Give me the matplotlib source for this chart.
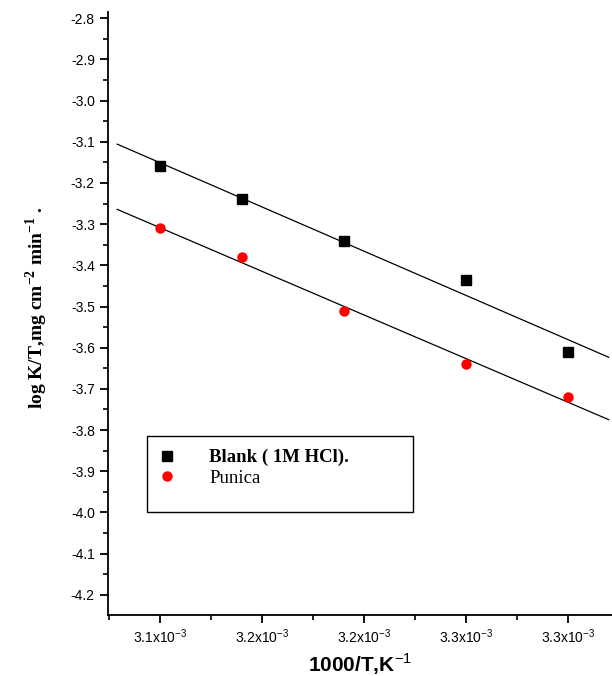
import numpy as np
import matplotlib
matplotlib.use('Agg')
import matplotlib.pyplot as plt
from matplotlib.patches import Rectangle
from matplotlib.ticker import MultipleLocator, FuncFormatter

plt.rcParams['font.family'] = 'Liberation Sans'
plt.rcParams['mathtext.fontset'] = 'custom'
plt.rcParams['mathtext.rm'] = 'Liberation Serif'
plt.rcParams['mathtext.bf'] = 'Liberation Serif:bold'
plt.rcParams['mathtext.sf'] = 'Liberation Sans'

# data
inv_t = [0.00310, 0.00314, 0.00319, 0.00325, 0.00330]
blank = [-3.16, -3.24, -3.34, -3.435, -3.61]
punica = [-3.31, -3.38, -3.51, -3.64, -3.72]
series_names = ['Blank ( 1M HCl).', 'Punica']

fig = plt.figure(figsize=(6.12, 6.76), dpi=100)
ax = fig.add_axes([0.1765, 0.0902, 0.8235, 0.892])

xlo, xhi = 0.0030745, 0.0033216
x_fit = np.array([0.003079, 0.003320])

ax.plot(inv_t, blank, 's', color='black', markersize=6.5, zorder=3, label=series_names[0])
ax.plot(inv_t, punica, 'o', color='red', markersize=7.5, markeredgewidth=0, zorder=3,
        label=series_names[1])

for ys in (blank, punica):
    k, b = np.polyfit(inv_t, ys, 1)
    ax.plot(x_fit, k * x_fit + b, color='black', linewidth=0.9, zorder=2)

ax.set_xlim(xlo, xhi)
ax.set_ylim(-4.249, -2.785)

ax.spines['top'].set_visible(False)
ax.spines['right'].set_visible(False)
ax.spines['left'].set_linewidth(1.3)
ax.spines['bottom'].set_linewidth(1.3)

ax.xaxis.set_major_locator(MultipleLocator(0.00005))
ax.xaxis.set_minor_locator(MultipleLocator(0.000025))
ax.yaxis.set_major_locator(MultipleLocator(0.1))
ax.yaxis.set_minor_locator(MultipleLocator(0.05))


def xfmt(v, pos):
    return '%.1fx10$^{\\mathsf{-3}}$' % (v * 1e3 + 1e-9)


ax.xaxis.set_major_formatter(FuncFormatter(xfmt))
ax.yaxis.set_major_formatter(FuncFormatter(lambda v, p: '%.1f' % v))
ax.tick_params(which='major', length=6, width=1.3, labelsize=10, direction='out')
ax.tick_params(which='minor', length=3.5, width=1.2, direction='out')
ax.tick_params(axis='x', pad=3)

ax.set_xlabel('1000/T,K$^{\\mathsf{-1}}$', fontsize=15, fontweight='bold', labelpad=4)
ax.set_ylabel('log K/T,mg cm$^{\\mathbf{-2}}$ min$^{\\mathbf{-1}}$ .',
              fontsize=14, fontweight='bold', family='Liberation Serif')
ax.yaxis.set_label_coords(-0.115, 0.51)

# legend box
ax.add_patch(Rectangle((0.077, 0.171), 0.528, 0.126, transform=ax.transAxes,
                       facecolor='white', edgecolor='black', linewidth=1.0, zorder=4))
leg = ax.legend(loc='upper left', bbox_to_anchor=(0.074, 0.288), frameon=False,
                prop={'family': 'Liberation Serif', 'size': 13.5}, handletextpad=1.5,
                labelspacing=0.2, borderaxespad=0, handlelength=1.5)
leg.set_zorder(5)
leg.get_texts()[0].set_fontweight('bold')

fig.savefig('out.png', dpi=100)
